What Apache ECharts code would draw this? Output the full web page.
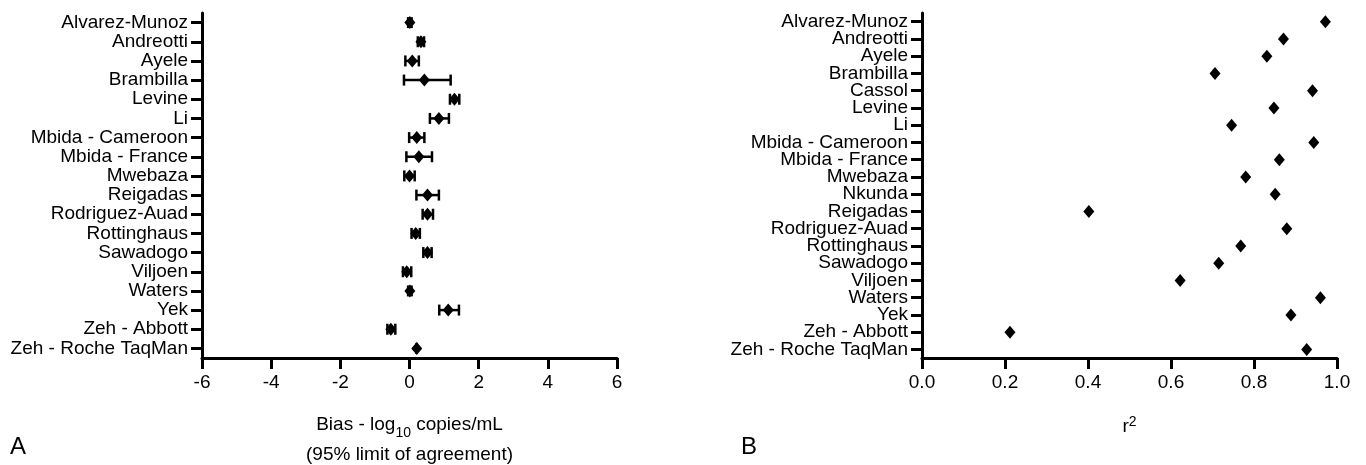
<!DOCTYPE html>
<html>
<head>
<meta charset="utf-8">
<script src="https://cdn.jsdelivr.net/npm/echarts@6/dist/echarts.min.js"></script>
<style>
html,body{margin:0;padding:0;background:#fff;}
#c{width:1366px;height:465px;}
</style>
</head>
<body>
<div id="c"></div>
<script>
// ---- Data (panel A: Bias, 95% limits of agreement) ----
const biasStudies = ['Alvarez-Munoz','Andreotti','Ayele','Brambilla','Levine','Li','Mbida - Cameroon','Mbida - France','Mwebaza','Reigadas','Rodriguez-Auad','Rottinghaus','Sawadogo','Viljoen','Waters','Yek','Zeh - Abbott','Zeh - Roche TaqMan'];
const biasMean = [0.01, 0.33, 0.08, 0.43, 1.30, 0.85, 0.21, 0.27, 0.00, 0.52, 0.52, 0.18, 0.52, -0.08, 0.01, 1.12, -0.54, 0.21];
const biasLow  = [-0.04, 0.24, -0.12, -0.16, 1.17, 0.59, -0.01, -0.09, -0.15, 0.20, 0.38, 0.06, 0.40, -0.19, -0.04, 0.86, -0.64, 0.21];
const biasHigh = [0.06, 0.42, 0.27, 1.19, 1.44, 1.14, 0.43, 0.65, 0.15, 0.85, 0.68, 0.30, 0.64, 0.05, 0.06, 1.43, -0.41, 0.21];
const biasTicks = [-6, -4, -2, 0, 2, 4, 6];

// ---- Data (panel B: r^2) ----
const r2Studies = ['Alvarez-Munoz','Andreotti','Ayele','Brambilla','Cassol','Levine','Li','Mbida - Cameroon','Mbida - France','Mwebaza','Nkunda','Reigadas','Rodriguez-Auad','Rottinghaus','Sawadogo','Viljoen','Waters','Yek','Zeh - Abbott','Zeh - Roche TaqMan'];
const r2Values = [0.972, 0.871, 0.831, 0.706, 0.941, 0.848, 0.746, 0.944, 0.861, 0.780, 0.851, 0.402, 0.879, 0.768, 0.715, 0.622, 0.960, 0.889, 0.212, 0.927];
const r2Ticks = [0.0, 0.2, 0.4, 0.6, 0.8, 1.0];
</script>
<script>
const FONT = '"Liberation Sans", Arial, Helvetica, sans-serif';
const FS = 19;
const chart = echarts.init(document.getElementById('c'), null, {renderer: 'canvas'});

const axisLineStyle = {show: true, onZero: false, lineStyle: {color: '#000', width: 3}};
const axisTickStyle = {show: true, length: 11, lineStyle: {color: '#000', width: 3}};

function catAxis(gridIndex, cats) {
  return {
    type: 'category', gridIndex, data: cats, inverse: true,
    axisLine: axisLineStyle,
    axisTick: Object.assign({alignWithLabel: true}, axisTickStyle),
    axisLabel: {color: '#000', fontSize: FS, fontFamily: FONT, margin: 14, interval: 0},
    splitLine: {show: false}
  };
}

const errData = biasStudies.map((s, i) => [biasLow[i], biasHigh[i], i]);
const meanData = biasStudies.map((s, i) => [biasMean[i], i]);
const r2Data = r2Studies.map((s, i) => [r2Values[i], i]);

const option = {
  backgroundColor: '#fff',
  animation: false,
  textStyle: {fontFamily: FONT},
  grid: [
    {left: 202, width: 415, top: 13, height: 345, containLabel: false, outerBoundsMode: 'none'},
    {left: 922, width: 415, top: 13, height: 345, containLabel: false, outerBoundsMode: 'none'}
  ],
  xAxis: [
    {
      type: 'value', gridIndex: 0, min: biasTicks[0], max: biasTicks[biasTicks.length - 1], interval: 2,
      axisLine: axisLineStyle, axisTick: axisTickStyle, splitLine: {show: false},
      axisLabel: {color: '#000', fontSize: FS, fontFamily: FONT, margin: 15},
      name: '{a|Bias - log}{s|10}{a| copies/mL}\n{a|(95% limit of agreement)}',
      nameLocation: 'middle', nameGap: 52,
      nameTextStyle: {
        color: '#000', fontFamily: FONT, fontSize: FS, lineHeight: 30,
        rich: {
          a: {color: '#000', fontFamily: FONT, fontSize: FS, lineHeight: 30},
          s: {color: '#000', fontFamily: FONT, fontSize: 14, lineHeight: 16, verticalAlign: 'bottom'}
        }
      }
    },
    {
      type: 'value', gridIndex: 1, min: r2Ticks[0], max: r2Ticks[r2Ticks.length - 1], interval: 0.2,
      axisLine: axisLineStyle, axisTick: axisTickStyle, splitLine: {show: false},
      axisLabel: {color: '#000', fontSize: FS, fontFamily: FONT, margin: 15, formatter: v => v.toFixed(1)},
      name: '{a|r}{p|2}',
      nameLocation: 'middle', nameGap: 57,
      nameTextStyle: {
        color: '#000', fontFamily: FONT, fontSize: FS, lineHeight: 24,
        rich: {
          a: {color: '#000', fontFamily: FONT, fontSize: FS, lineHeight: 24},
          p: {color: '#000', fontFamily: FONT, fontSize: 14, lineHeight: 14, verticalAlign: 'top'}
        }
      }
    }
  ],
  yAxis: [catAxis(0, biasStudies), catAxis(1, r2Studies)],
  series: [
    {
      type: 'custom', xAxisIndex: 0, yAxisIndex: 0, data: errData,
      encode: {x: [0, 1], y: 2},
      renderItem: function (params, api) {
        const lo = api.coord([api.value(0), api.value(2)]);
        const hi = api.coord([api.value(1), api.value(2)]);
        const h = 5.5;
        const st = {stroke: '#000', lineWidth: 2.5};
        return {
          type: 'group',
          children: [
            {type: 'line', shape: {x1: lo[0], y1: lo[1], x2: hi[0], y2: hi[1]}, style: st},
            {type: 'line', shape: {x1: lo[0], y1: lo[1] - h, x2: lo[0], y2: lo[1] + h}, style: st},
            {type: 'line', shape: {x1: hi[0], y1: hi[1] - h, x2: hi[0], y2: hi[1] + h}, style: st}
          ]
        };
      },
      z: 2
    },
    {
      type: 'scatter', xAxisIndex: 0, yAxisIndex: 0, data: meanData,
      symbol: 'diamond', symbolSize: [11, 13], itemStyle: {color: '#000', opacity: 1}, z: 3
    },
    {
      type: 'scatter', xAxisIndex: 1, yAxisIndex: 1, data: r2Data,
      symbol: 'diamond', symbolSize: [11, 13], itemStyle: {color: '#000', opacity: 1}, z: 3
    }
  ],
  graphic: [
    {type: 'text', left: 10, top: 435, style: {text: 'A', fontSize: 24, fontFamily: FONT, fill: '#000'}},
    {type: 'text', left: 741, top: 435, style: {text: 'B', fontSize: 24, fontFamily: FONT, fill: '#000'}}
  ]
};
chart.setOption(option);
</script>
</body>
</html>
